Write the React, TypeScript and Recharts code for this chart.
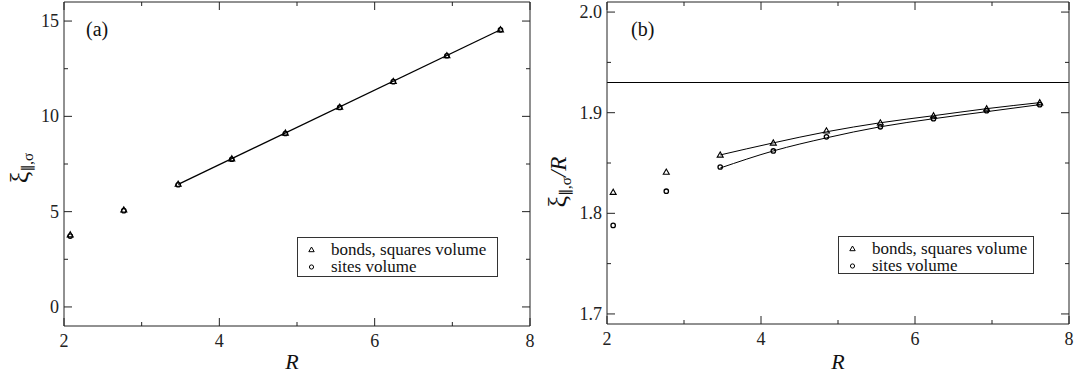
import React from 'react';
import { ComposedChart, XAxis, YAxis, Scatter, Line, ReferenceLine, Legend, Customized } from 'recharts';

// ---- data ----
const R = [2.08, 2.77, 3.47, 4.16, 4.85, 5.55, 6.24, 6.93, 7.62];
const xiBonds = [3.79, 5.1, 6.45, 7.78, 9.13, 10.49, 11.84, 13.19, 14.55];
const xiSites = [3.72, 5.05, 6.41, 7.75, 9.1, 10.47, 11.82, 13.18, 14.54];
const fitAX = [3.47, 7.62];
const fitAY = [6.43, 14.545];

const ratioBonds = [1.821, 1.841, 1.858, 1.87, 1.882, 1.89, 1.897, 1.904, 1.91];
const ratioSites = [1.788, 1.822, 1.846, 1.862, 1.876, 1.886, 1.894, 1.902, 1.908];
const fitBX = [3.47, 4.16, 4.85, 5.55, 6.24, 6.93, 7.62];
const fitBBonds = [1.858, 1.87, 1.881, 1.89, 1.897, 1.904, 1.91];
const fitBSites = [1.845, 1.862, 1.875, 1.886, 1.894, 1.901, 1.908];
const asymptote = 1.93;

const xTicks = [2, 3, 4, 5, 6, 7, 8];
const xMajor = [2, 4, 6, 8];
const xMajorLabels = ['2', '4', '6', '8'];
const yTicksA = [0, 2.5, 5, 7.5, 10, 12.5, 15];
const yMajorA = [0, 5, 10, 15];
const yMajorLabelsA = ['0', '5', '10', '15'];
const yTicksB = [1.7, 1.75, 1.8, 1.85, 1.9, 1.95, 2.0];
const yMajorB = [1.7, 1.8, 1.9, 2.0];
const yMajorLabelsB = ['1.7', '1.8', '1.9', '2.0'];
const legendLabels = ['bonds, squares volume', 'sites volume'];

const pts = (xs: number[], ys: number[]) => xs.map((x, i) => ({ x, y: ys[i] }));

const SERIF = 'Liberation Serif, Tinos, Times New Roman, Nimbus Roman, DejaVu Serif, serif';
const AX = '#222';

type Side = 'bottom' | 'top' | 'left' | 'right';
const makeTick = (side: Side, majors: number[], labels: string[] | null) => (props: any) => {
  const { x, y, payload } = props;
  const v = payload.value;
  const idx = majors.findIndex((m) => Math.abs(m - v) < 1e-6);
  const major = idx >= 0;
  const len = major ? 8 : 4;
  let line: any = null;
  let text: any = null;
  if (side === 'bottom') {
    line = <line x1={x} x2={x} y1={y} y2={y - len} stroke={AX} strokeWidth={1} />;
    if (major && labels)
      text = (
        <text x={x} y={y + 21} textAnchor="middle" fontSize={18} style={{ fontFamily: SERIF }} fill={AX}>
          {labels[idx]}
        </text>
      );
  } else if (side === 'top') {
    line = <line x1={x} x2={x} y1={y} y2={y + len} stroke={AX} strokeWidth={1} />;
  } else if (side === 'left') {
    line = <line x1={x} x2={x + len} y1={y} y2={y} stroke={AX} strokeWidth={1} />;
    if (major && labels)
      text = (
        <text x={x - 5} y={y + 6} textAnchor="end" fontSize={18} style={{ fontFamily: SERIF }} fill={AX}>
          {labels[idx]}
        </text>
      );
  } else {
    line = <line x1={x} x2={x - len} y1={y} y2={y} stroke={AX} strokeWidth={1} />;
  }
  return (
    <g>
      {line}
      {text}
    </g>
  );
};

const Tri = (props: any) => {
  const { cx, cy } = props;
  if (cx == null || cy == null) return null;
  return (
    <polygon
      points={`${cx},${cy - 3} ${cx - 3},${cy + 2.2} ${cx + 3},${cy + 2.2}`}
      fill="none"
      stroke="#000"
      strokeWidth={1.1}
    />
  );
};
const Circ = (props: any) => {
  const { cx, cy } = props;
  if (cx == null || cy == null) return null;
  return <circle cx={cx} cy={cy} r={2.2} fill="none" stroke="#000" strokeWidth={1.3} />;
};

const LegendBox = () => (
  <div
    style={{
      boxSizing: 'border-box',
      width: '100%',
      height: '100%',
      border: '1px solid #333',
      background: '#fff',
      paddingTop: 3,
      fontFamily: SERIF,
      fontSize: 17,
      lineHeight: '17px',
      color: '#111',
    }}
  >
    {legendLabels.map((lab, i) => (
      <div key={lab} style={{ display: 'flex', alignItems: 'center', height: 17, whiteSpace: 'nowrap' }}>
        <svg width={33} height={17} style={{ flex: '0 0 auto' }}>
          {i === 0 ? (
            <polygon points="13.5,6 10.8,10.7 16.2,10.7" fill="none" stroke="#000" strokeWidth={1} />
          ) : (
            <circle cx={13.5} cy={9} r={2.1} fill="none" stroke="#000" strokeWidth={1} />
          )}
        </svg>
        <span>{lab}</span>
      </div>
    ))}
  </div>
);

const axesCommon = {
  type: 'number' as const,
  allowDataOverflow: true,
  tickLine: false,
  tickSize: 0,
  tickMargin: 0,
  interval: 0 as const,
  axisLine: { stroke: AX, strokeWidth: 1 },
};

const labelStyle = { fontFamily: SERIF };

const PanelA = () => (
  <ComposedChart width={540} height={381} margin={{ top: 1, right: 9, bottom: 0, left: 0 }}>
    <XAxis {...axesCommon} dataKey="x" domain={[2, 8]} ticks={xTicks} height={55} tick={makeTick('bottom', xMajor, xMajorLabels)} />
    <XAxis {...axesCommon} xAxisId="top" orientation="top" dataKey="x" domain={[2, 8]} ticks={xTicks} height={1} tick={makeTick('top', xMajor, null)} />
    <YAxis {...axesCommon} dataKey="y" domain={[-1, 16]} ticks={yTicksA} width={64} tick={makeTick('left', yMajorA, yMajorLabelsA)} />
    <YAxis {...axesCommon} yAxisId="right" orientation="right" dataKey="y" domain={[-1, 16]} ticks={yTicksA} width={1} tick={makeTick('right', yMajorA, null)} />
    <Line data={pts(fitAX, fitAY)} dataKey="y" type="linear" stroke="#000" strokeWidth={1.3} dot={false} isAnimationActive={false} />
    <Scatter data={pts(R, xiBonds)} dataKey="y" shape={<Tri />} isAnimationActive={false} />
    <Scatter data={pts(R, xiSites)} dataKey="y" shape={<Circ />} isAnimationActive={false} />
    <Legend
      layout="vertical"
      align="center"
      verticalAlign="middle"
      content={() => <LegendBox />}
      wrapperStyle={{ left: 297, top: 237, width: 201, height: 40, right: 'auto', bottom: 'auto' }}
    />
    <Customized
      component={() => (
        <g>
          <text x={86} y={36} fontSize={20} style={labelStyle} fill="#111">(a)</text>
          <text x={292} y={369} fontSize={22} fontStyle="italic" style={labelStyle} fill="#111" textAnchor="middle">R</text>
          <text transform="translate(28,168) rotate(-90)" textAnchor="middle" style={labelStyle} fill="#111">
            <tspan fontSize={26}>ξ</tspan>
            <tspan fontSize={15} dy={5}>∥,σ</tspan>
          </text>
        </g>
      )}
    />
  </ComposedChart>
);

const PanelB = () => (
  <ComposedChart width={548} height={381} margin={{ top: 1, right: 18, bottom: 0, left: 0 }}>
    <XAxis {...axesCommon} dataKey="x" domain={[2, 8]} ticks={xTicks} height={57} tick={makeTick('bottom', xMajor, xMajorLabels)} />
    <XAxis {...axesCommon} xAxisId="top" orientation="top" dataKey="x" domain={[2, 8]} ticks={xTicks} height={1} tick={makeTick('top', xMajor, null)} />
    <YAxis {...axesCommon} dataKey="y" domain={[1.69, 2.01]} ticks={yTicksB} width={67} tick={makeTick('left', yMajorB, yMajorLabelsB)} />
    <YAxis {...axesCommon} yAxisId="right" orientation="right" dataKey="y" domain={[1.69, 2.01]} ticks={yTicksB} width={1} tick={makeTick('right', yMajorB, null)} />
    <ReferenceLine y={asymptote} stroke="#000" strokeWidth={1.2} />
    <Line data={pts(fitBX, fitBBonds)} dataKey="y" type="monotone" stroke="#000" strokeWidth={1} dot={false} isAnimationActive={false} />
    <Line data={pts(fitBX, fitBSites)} dataKey="y" type="monotone" stroke="#000" strokeWidth={1} dot={false} isAnimationActive={false} />
    <Scatter data={pts(R, ratioBonds)} dataKey="y" shape={<Tri />} isAnimationActive={false} />
    <Scatter data={pts(R, ratioSites)} dataKey="y" shape={<Circ />} isAnimationActive={false} />
    <Legend
      layout="vertical"
      align="center"
      verticalAlign="middle"
      content={() => <LegendBox />}
      wrapperStyle={{ left: 298, top: 236, width: 196, height: 38, right: 'auto', bottom: 'auto' }}
    />
    <Customized
      component={() => (
        <g>
          <text x={91} y={36} fontSize={20} style={labelStyle} fill="#111">(b)</text>
          <text x={298} y={369} fontSize={22} fontStyle="italic" style={labelStyle} fill="#111" textAnchor="middle">R</text>
          <text transform="translate(26,182) rotate(-90)" textAnchor="middle" style={labelStyle} fill="#111">
            <tspan fontSize={26}>ξ</tspan>
            <tspan fontSize={15} dy={5}>∥,σ</tspan>
            <tspan fontSize={23} dy={-5} fontStyle="italic">/R</tspan>
          </text>
        </g>
      )}
    />
  </ComposedChart>
);

export default function App() {
  return (
    <div style={{ position: 'absolute', left: 0, top: 0, width: 1088, height: 381, background: '#fff' }}>
      <div style={{ position: 'absolute', left: 0, top: 0 }}>
        <PanelA />
      </div>
      <div style={{ position: 'absolute', left: 540, top: 0 }}>
        <PanelB />
      </div>
    </div>
  );
}
